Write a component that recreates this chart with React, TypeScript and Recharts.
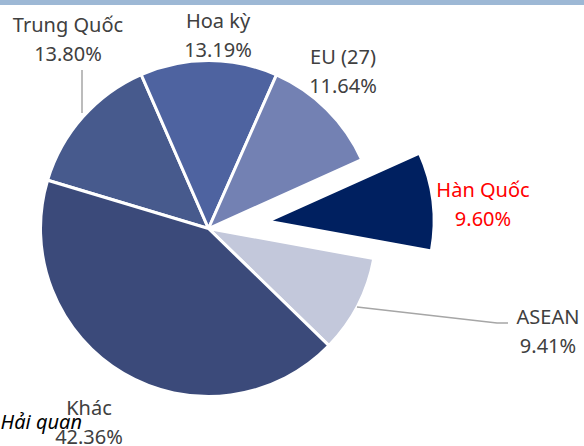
import { Cell, Pie, PieChart } from "recharts";

const names = ["Trung Quốc", "Hoa kỳ", "EU (27)", "Hàn Quốc", "ASEAN", "Khác"];
const shares = [13.8, 13.19, 11.64, 9.6, 9.41, 42.36];
const shareLabels = ["13.80%", "13.19%", "11.64%", "9.60%", "9.41%", "42.36%"];
const explodedName = "Hàn Quốc";

const COLORS = ["#475a8d", "#4e63a0", "#7381b3", "#002060", "#c3c8db", "#3b4a7a"];
const LABEL_COLORS = ["#404040", "#404040", "#404040", "#ff0000", "#404040", "#404040"];
// label anchor (center x, first baseline) per slice, as placed in the original
const LABEL_POS: [number, number][] = [
  [68, 32],
  [218, 28],
  [343, 64],
  [483, 197],
  [548, 324],
  [89, 415],
];
const LEADERS: Record<number, string> = {
  0: "82,70 82,113",
  4: "357,307 497,323 508,323",
};

const CX = 208.5;
const CY = 228.5;
const R = 168;
const START = 163.3;
const EXPLODE = 60;

const data = names.map((name, i) => ({ name, value: shares[i], label: shareLabels[i] }));

const total = shares.reduce((a, b) => a + b, 0);
const exIdx = names.indexOf(explodedName);
const before = shares.slice(0, exIdx).reduce((a, b) => a + b, 0);
const midAngle = START - (360 * (before + shares[exIdx] / 2)) / total;
const exCx = CX + EXPLODE * Math.cos((midAngle * Math.PI) / 180);
const exCy = CY - EXPLODE * Math.sin((midAngle * Math.PI) / 180);

const FONT = "'Noto Sans', sans-serif";

function renderLabel(props: any) {
  const i = props.index;
  const [x, y] = LABEL_POS[i];
  return (
    <g key={`lbl-${i}`}>
      {LEADERS[i] && (
        <polyline points={LEADERS[i]} fill="none" stroke="#a6a6a6" strokeWidth={1.5} />
      )}
      <text x={x} y={y} textAnchor="middle" fontSize={20} fontFamily={FONT} fill={LABEL_COLORS[i]}>
        {names[i]}
      </text>
      <text x={x} y={y + 29} textAnchor="middle" fontSize={20} fontFamily={FONT} fill={LABEL_COLORS[i]}>
        {shareLabels[i]}
      </text>
    </g>
  );
}

export default function App() {
  return (
    <div style={{ position: "fixed", left: 0, top: 0, width: 584, height: 446, background: "#fff", overflow: "hidden" }}>
      <div style={{ position: "absolute", left: 0, top: 0, width: 584, height: 5, background: "#9db8d5" }} />
      <PieChart width={584} height={446} margin={{ top: 0, right: 0, bottom: 0, left: 0 }}>
        <Pie
          data={data}
          dataKey="value"
          nameKey="name"
          cx={CX}
          cy={CY}
          outerRadius={R}
          startAngle={START}
          endAngle={START - 360}
          stroke="#ffffff"
          strokeWidth={3}
          label={renderLabel}
          labelLine={false}
          isAnimationActive={false}
        >
          {data.map((d, i) => (
            <Cell
              key={d.name}
              fill={i === exIdx ? "none" : COLORS[i]}
              stroke={i === exIdx ? "none" : "#ffffff"}
            />
          ))}
        </Pie>
        <Pie
          data={data}
          dataKey="value"
          nameKey="name"
          cx={exCx}
          cy={exCy}
          outerRadius={R - 2}
          startAngle={START}
          endAngle={START - 360}
          stroke="#ffffff"
          strokeWidth={3}
          labelLine={false}
          isAnimationActive={false}
        >
          {data.map((d, i) => (
            <Cell
              key={d.name}
              fill={i === exIdx ? COLORS[i] : "none"}
              stroke={i === exIdx ? "#ffffff" : "none"}
            />
          ))}
        </Pie>
      </PieChart>
      <div
        style={{
          position: "absolute",
          right: 584 - 82,
          top: 408,
          fontFamily: FONT,
          fontStyle: "italic",
          fontSize: 20,
          color: "#000",
          whiteSpace: "nowrap",
          lineHeight: "28px",
        }}
      >
        Nguồn: Tổng cục Hải quan
      </div>
    </div>
  );
}
